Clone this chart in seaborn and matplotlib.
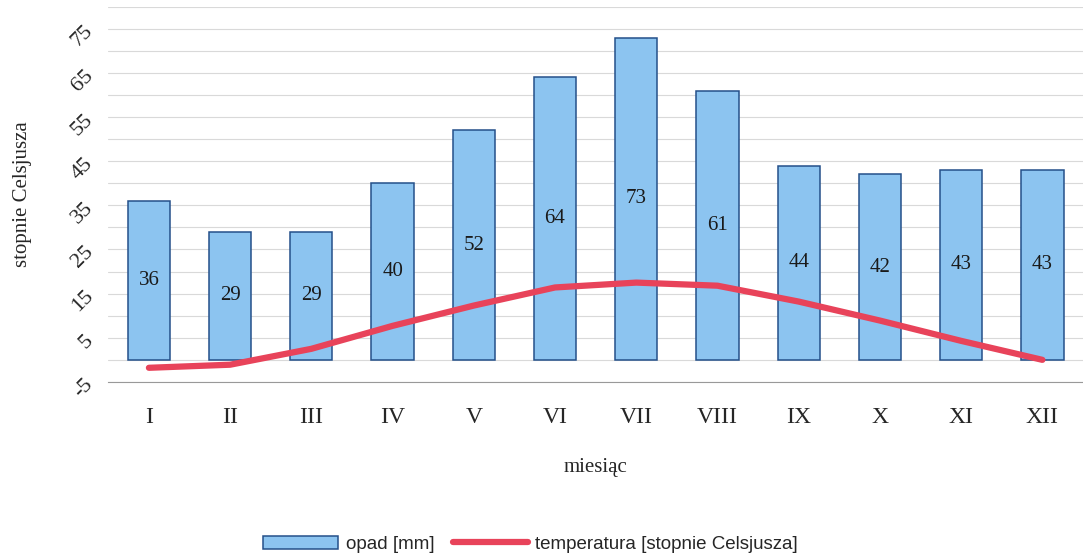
import matplotlib
matplotlib.use("Agg")
import matplotlib.pyplot as plt
import seaborn as sns
import numpy as np
import pandas as pd
from matplotlib.patches import Patch
from matplotlib.lines import Line2D
from matplotlib.ticker import MultipleLocator

months = ["I", "II", "III", "IV", "V", "VI", "VII", "VIII", "IX", "X", "XI", "XII"]
opad = [36, 29, 29, 40, 52, 64, 73, 61, 44, 42, 43, 43]
temperatura = [-1.8, -1.1, 2.5, 7.7, 12.3, 16.4, 17.5, 16.8, 13.2, 8.9, 4.3, 0.0]
yticks = [-5, 5, 15, 25, 35, 45, 55, 65, 75]

sns.set_style("white")
serif = ["Liberation Serif", "DejaVu Serif"]
plt.rcParams["font.family"] = serif

df = pd.DataFrame({"miesiac": months, "opad": opad, "temp": temperatura})

fig = plt.figure(figsize=(10.83, 5.6), dpi=100)
ax = fig.add_axes([0.1, 0.318, 0.9, 0.67])

ax.yaxis.set_minor_locator(MultipleLocator(5))
ax.set_yticks(yticks)
ax.grid(which="both", axis="y", color="#d9d9d9", linewidth=0.8)
ax.set_axisbelow(True)

sns.barplot(data=df, x="miesiac", y="opad", color="#8cc4f0", edgecolor="#24508a",
            linewidth=1.1, width=0.52, saturation=1, ax=ax)
sns.lineplot(x=np.arange(len(months)), y=df["temp"], color="#e8435a", linewidth=4.5,
             ax=ax, zorder=5)

for i, v in enumerate(opad):
    ax.text(i, v / 2, str(v), ha="center", va="center", fontsize=15, color="#1a1a1a")

ax.set_ylim(-5, 80)
ax.set_xlim(-0.5, 11.5)
ax.set_yticklabels([str(t) for t in yticks], rotation=45, fontsize=16)
ax.tick_params(axis="x", labelsize=17, pad=18, length=0)
ax.tick_params(axis="y", length=0, pad=8)
for s in ["top", "right", "left"]:
    ax.spines[s].set_visible(False)
ax.spines["bottom"].set_color("#999999")
ax.set_xlabel("miesiąc", fontsize=15, labelpad=22)
ax.set_ylabel("stopnie Celsjusza", fontsize=15, labelpad=26)

handles = [Patch(facecolor="#8cc4f0", edgecolor="#24508a", linewidth=1.1),
           Line2D([0], [0], color="#e8435a", linewidth=4.5)]
fig.legend(handles, ["opad [mm]", "temperatura [stopnie Celsjusza]"],
           loc="center", bbox_to_anchor=(0.49, 0.028), ncol=2, frameon=False,
           prop={"family": ["Liberation Sans Narrow", "Liberation Sans"], "size": 13.5},
           handlelength=4.0, columnspacing=1.0, handletextpad=0.4)

fig.savefig("out.png", dpi=100)
